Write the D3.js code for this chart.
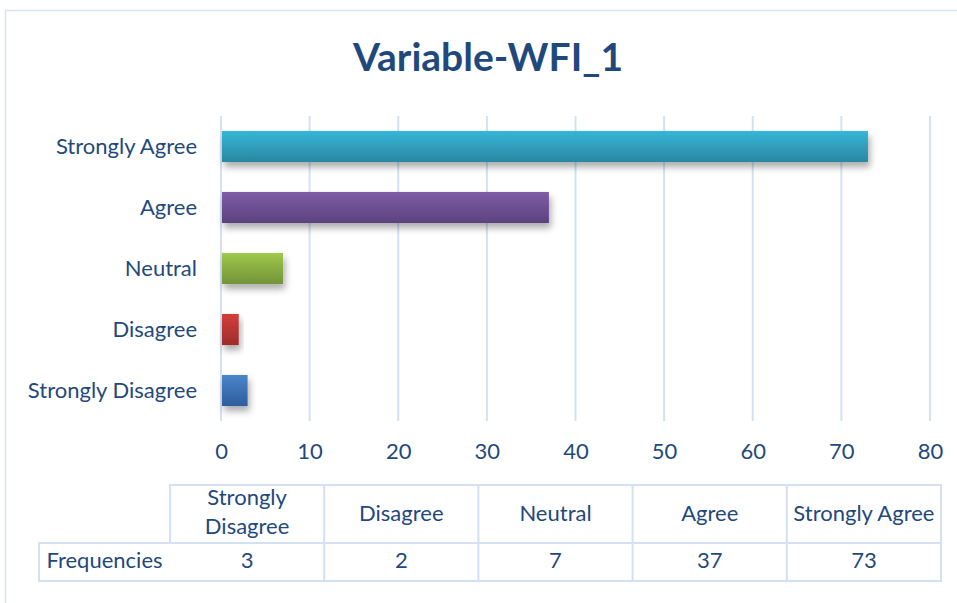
<!DOCTYPE html>
<html>
<head>
<meta charset="utf-8">
<script src="https://cdn.jsdelivr.net/npm/d3@7"></script>
<style>
  html, body { margin: 0; padding: 0; background: #fff; }
  svg { display: block; font-family: Lato, "Open Sans", sans-serif; }
</style>
</head>
<body>
<svg id="chart" width="957" height="603"></svg>
<script>
// Response categories (table order) and their frequencies
const categories = ["Strongly Disagree", "Disagree", "Neutral", "Agree", "Strongly Agree"];
const frequencies = [3, 2, 7, 37, 73];
const xTicks = [0, 10, 20, 30, 40, 50, 60, 70, 80];
const rowLabel = "Frequencies";
const title = "Variable-WFI_1";
// Gradient colours per category: [top, bottom]
const barColors = [
  ["#4A86CB", "#2E5C9C"],
  ["#D33E3B", "#9E2C2A"],
  ["#A0C84A", "#739339"],
  ["#7E5CA7", "#5C427D"],
  ["#36B6D8", "#2A87A0"]
];

const textColor = "#1F497D";
const lineColor = "#D4E1F2";
const labelSize = 22;

const svg = d3.select("#chart");
const defs = svg.append("defs");

// Frame
svg.append("rect")
  .attr("x", 5.5).attr("y", 10.5)
  .attr("width", 1000).attr("height", 700)
  .attr("fill", "none").attr("stroke", "#D7E3F3").attr("stroke-width", 1.5);

// Title
svg.append("text")
  .attr("x", 488).attr("y", 71)
  .attr("text-anchor", "middle")
  .attr("font-size", 39).attr("font-weight", 700)
  .attr("fill", textColor)
  .text(title);

// Scales
const x = d3.scaleLinear().domain([0, 80]).range([221, 930]);
const y = d3.scaleBand()
  .domain(categories.slice().reverse())
  .range([116, 421])
  .paddingInner(0.49).paddingOuter(0.245);

// Gridlines
svg.append("g").selectAll("line").data(xTicks).join("line")
  .attr("x1", d => x(d)).attr("x2", d => x(d))
  .attr("y1", 116).attr("y2", 421)
  .attr("stroke", lineColor).attr("stroke-width", 2);

// Shadow filter and gradients
const shadow = defs.append("filter").attr("id", "shadow")
  .attr("x", "-20%").attr("y", "-30%").attr("width", "150%").attr("height", "190%");
shadow.append("feDropShadow")
  .attr("dx", 2).attr("dy", 5).attr("stdDeviation", 3.5)
  .attr("flood-color", "#000").attr("flood-opacity", 0.33);

categories.forEach((c, i) => {
  const g = defs.append("linearGradient").attr("id", "grad" + i)
    .attr("x1", 0).attr("y1", 0).attr("x2", 0).attr("y2", 1);
  g.append("stop").attr("offset", "0%").attr("stop-color", barColors[i][0]);
  g.append("stop").attr("offset", "100%").attr("stop-color", barColors[i][1]);
});

// Bars
svg.append("g").selectAll("rect").data(categories).join("rect")
  .attr("x", x(0) + 1)
  .attr("y", d => y(d))
  .attr("width", (d, i) => x(frequencies[i]) - x(0) - 1)
  .attr("height", y.bandwidth())
  .attr("fill", (d, i) => `url(#grad${i})`)
  .attr("filter", "url(#shadow)");

// Category axis labels
const yAxis = d3.axisLeft(y).tickSize(0).tickPadding(24);
const yg = svg.append("g").attr("transform", `translate(${x(0)},0)`).call(yAxis);
yg.select(".domain").remove();
yg.selectAll("text").attr("font-size", labelSize).attr("fill", textColor)
  .attr("font-family", "Lato, 'Open Sans', sans-serif");

// Value axis labels
const xAxis = d3.axisBottom(x).tickValues(xTicks).tickSize(0).tickPadding(22);
const xg = svg.append("g").attr("transform", "translate(0,421)").call(xAxis);
xg.select(".domain").remove();
xg.selectAll("text").attr("font-size", labelSize).attr("fill", textColor)
  .attr("font-family", "Lato, 'Open Sans', sans-serif");

// Data table
const colEdges = [170, 324, 478, 632, 786, 941];
const rowTop = 485, rowMid = 543, rowBot = 581, tableLeft = 39;
const tbl = svg.append("g");
const tcol = d3.scaleBand().domain(categories).range([colEdges[0], colEdges[5]]);

// table borders
tbl.append("rect").attr("x", colEdges[0]).attr("y", rowTop)
  .attr("width", colEdges[5] - colEdges[0]).attr("height", rowMid - rowTop)
  .attr("fill", "none").attr("stroke", lineColor).attr("stroke-width", 2);
tbl.append("rect").attr("x", tableLeft).attr("y", rowMid)
  .attr("width", colEdges[5] - tableLeft).attr("height", rowBot - rowMid)
  .attr("fill", "none").attr("stroke", lineColor).attr("stroke-width", 2);
tbl.selectAll("line.col").data(categories.slice(1)).join("line")
  .attr("class", "col")
  .attr("x1", d => tcol(d)).attr("x2", d => tcol(d))
  .attr("y1", rowTop).attr("y2", rowBot)
  .attr("stroke", lineColor).attr("stroke-width", 2);

// header labels (wrapping long ones) and frequency cells
categories.forEach((c, i) => {
  const cx = tcol(c) + tcol.bandwidth() / 2;
  const lines = c === "Strongly Disagree" ? ["Strongly", "Disagree"] : [c];
  const t = tbl.append("text").attr("text-anchor", "middle")
    .attr("font-size", labelSize).attr("fill", textColor);
  if (lines.length === 1) {
    t.append("tspan").attr("x", cx).attr("y", 521).text(lines[0]);
  } else {
    t.append("tspan").attr("x", cx).attr("y", 505).text(lines[0]);
    t.append("tspan").attr("x", cx).attr("y", 534).text(lines[1]);
  }
  tbl.append("text").attr("x", cx).attr("y", 568)
    .attr("text-anchor", "middle").attr("font-size", labelSize).attr("fill", textColor)
    .text(frequencies[i]);
});
tbl.append("text").attr("x", (tableLeft + colEdges[0]) / 2).attr("y", 568)
  .attr("text-anchor", "middle").attr("font-size", labelSize).attr("fill", textColor)
  .text(rowLabel);
</script>
</body>
</html>
